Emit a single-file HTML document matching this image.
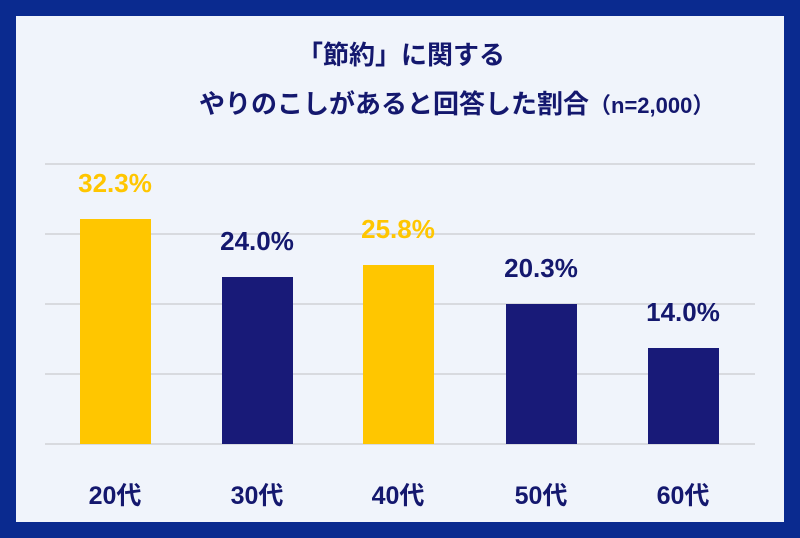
<!DOCTYPE html>
<html><head><meta charset="utf-8"><style>
html,body{margin:0;padding:0}
body{width:800px;height:538px;background:#0a2a8f;position:relative;overflow:hidden;font-family:"Liberation Sans","Noto Sans CJK JP",sans-serif;font-weight:bold}
.in{position:absolute;left:16px;top:16px;width:768px;height:506px;background:#f0f4fb}
.t{position:absolute;color:#14186e;font-size:26px;white-space:nowrap}
.g{position:absolute;left:45px;width:710px;height:2px;background:#d8dadf}
.b{position:absolute;width:71px}
.v{position:absolute;width:140px;text-align:center;font-size:26px}
.x{position:absolute;width:140px;text-align:center;font-size:25px;color:#14186e;top:476px}
</style></head><body>
<div class="in"></div>
<div class="t" style="left:297px;top:35px">「節約」に関する</div>
<div class="t" style="left:199px;top:84px">やりのこしがあると回答した割合<span style="font-size:22px">（n=2,000）</span></div>
<div class="g" style="top:163px"></div>
<div class="g" style="top:233px"></div>
<div class="g" style="top:303px"></div>
<div class="g" style="top:373px"></div>
<div class="g" style="top:443px"></div>
<div class="b" style="left:80px;top:219px;height:225px;background:#ffc600"></div>
<div class="b" style="left:222px;top:277px;height:167px;background:#181a78"></div>
<div class="b" style="left:363px;top:265px;height:179px;background:#ffc600"></div>
<div class="b" style="left:506px;top:304px;height:140px;background:#181a78"></div>
<div class="b" style="left:648px;top:348px;height:96px;background:#181a78"></div>
<div class="v" style="left:45px;top:168px;color:#ffc600">32.3%</div>
<div class="v" style="left:187px;top:226px;color:#14186e">24.0%</div>
<div class="v" style="left:328px;top:214px;color:#ffc600">25.8%</div>
<div class="v" style="left:471px;top:253px;color:#14186e">20.3%</div>
<div class="v" style="left:613px;top:297px;color:#14186e">14.0%</div>
<div class="x" style="left:45px">20代</div>
<div class="x" style="left:187px">30代</div>
<div class="x" style="left:328px">40代</div>
<div class="x" style="left:471px">50代</div>
<div class="x" style="left:613px">60代</div>
</body></html>
